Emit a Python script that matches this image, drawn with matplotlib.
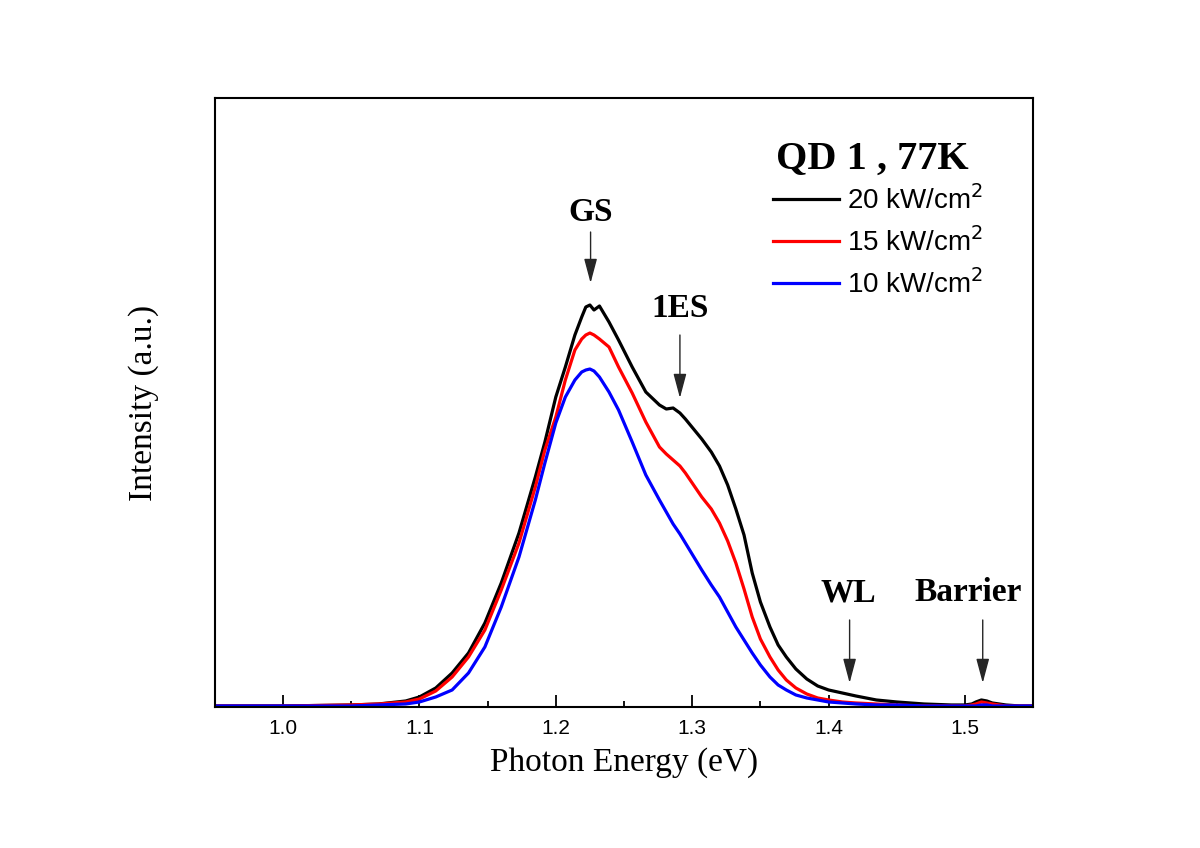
import matplotlib
matplotlib.use('Agg')
import matplotlib.pyplot as plt
from matplotlib.ticker import MultipleLocator

# photon energy grid (eV) and PL intensities (a.u.)
energy = [0.95, 1.00, 1.05, 1.07, 1.09, 1.10, 1.112, 1.124, 1.136, 1.148,
          1.160, 1.173, 1.185, 1.192, 1.200, 1.207, 1.214, 1.219, 1.222, 1.225,
          1.228, 1.232, 1.239, 1.246, 1.256, 1.266, 1.276, 1.281, 1.286, 1.291,
          1.295, 1.307, 1.314, 1.320, 1.326, 1.332, 1.338, 1.344, 1.350, 1.357,
          1.363, 1.369, 1.376, 1.384, 1.392, 1.40, 1.41, 1.42, 1.435, 1.45,
          1.47, 1.49, 1.50, 1.505, 1.508, 1.512, 1.516, 1.52, 1.53, 1.54, 1.55]
int_20 = [1, 1, 2, 3, 6, 10, 19, 34, 54, 84,
          124, 174, 230, 265, 310, 340, 372, 390, 400, 402,
          397, 401, 385, 367, 340, 315, 302, 298, 299, 294,
          288, 268, 255, 241, 222, 198, 172, 134, 105, 80,
          62, 50, 38, 28, 21, 17, 14, 11, 7, 5,
          3, 2, 2, 3, 5, 7, 6, 4, 2, 1, 1]
int_15 = [1, 1, 2, 3, 5, 8, 16, 30, 50, 77,
          117, 164, 220, 257, 290, 327, 357, 368, 372, 374,
          372, 368, 360, 340, 314, 285, 260, 253, 247, 241,
          234, 210, 198, 184, 166, 144, 118, 90, 68, 50,
          37, 27, 19, 13, 9, 7, 5, 4, 3, 2,
          1, 1, 1, 2, 3, 5, 4, 3, 1, 1, 1]
int_10 = [1, 1, 1, 2, 3, 5, 10, 17, 34, 60,
          100, 150, 207, 244, 284, 310, 327, 335, 337, 338,
          336, 330, 315, 297, 265, 232, 207, 195, 183, 173,
          164, 137, 122, 110, 95, 80, 67, 54, 42, 30,
          22, 17, 12, 9, 7, 5, 4, 3, 2, 2,
          1, 1, 1, 1, 1, 2, 2, 1, 1, 1, 1]
series_labels = ['20 kW/cm$^2$', '15 kW/cm$^2$', '10 kW/cm$^2$']
series_colors = ['black', 'red', 'blue']

# peak markers: label, energy, label position, arrow tail, arrow tip
peaks = ['GS', '1ES', 'WL', 'Barrier']
peak_e = [1.2255, 1.291, 1.4154, 1.513]
peak_lab_x = [1.2255, 1.291, 1.4147, 1.5020]
peak_lab_h = [495, 399, 114, 114]
peak_tail = [475, 372, 87, 87]
peak_tip = [424, 309, 24, 24]

serif = ['Liberation Serif', 'DejaVu Serif']
sans = ['Liberation Sans', 'DejaVu Sans']

fig = plt.figure(figsize=(12, 8.48), dpi=100)
ax = fig.add_axes([0.179, 0.1663, 0.682, 0.7181])

for y, lab, col in zip([int_20, int_15, int_10], series_labels, series_colors):
    ax.plot(energy, y, color=col, lw=2.3, label=lab)

ax.set_xlim(0.95, 1.55)
ax.set_ylim(0, 609)
ax.set_yticks([])
ax.xaxis.set_major_locator(MultipleLocator(0.1))
ax.xaxis.set_minor_locator(MultipleLocator(0.05))
ax.tick_params(axis='x', which='major', direction='in', length=8.5, width=1.3,
               labelsize=15, pad=9)
ax.tick_params(axis='x', which='minor', direction='in', length=4, width=1.3)
for lbl in ax.get_xticklabels():
    lbl.set_fontfamily(sans)
for sp in ax.spines.values():
    sp.set_linewidth(1.5)

ax.set_xlabel('Photon Energy (eV)', fontsize=24, family=serif, labelpad=6)
ax.set_ylabel('Intensity (a.u.)', fontsize=24, family=serif, labelpad=40)

for name, e, lx, lh, t0, t1 in zip(peaks, peak_e, peak_lab_x, peak_lab_h, peak_tail, peak_tip):
    ax.annotate('', xy=(e, t1), xytext=(e, t0),
                arrowprops=dict(arrowstyle='-|>,head_length=0.75,head_width=0.2',
                                color='0.15', lw=1.0, mutation_scale=20,
                                shrinkA=0, shrinkB=0))
    ax.text(lx, lh, name, ha='center', va='center', fontsize=24,
            fontweight='bold', family=serif)

ax.text(0.686, 0.90, 'QD 1 , 77K', transform=ax.transAxes, ha='left', va='center',
        fontsize=29, fontweight='bold', family=serif)

lgd = ax.legend(loc='upper left', bbox_to_anchor=(0.682, 0.857), frameon=False,
                prop={'family': sans, 'size': 20}, handlelength=2.37,
                handletextpad=0.29, labelspacing=0.43, borderaxespad=0, borderpad=0)

plt.savefig('out.png', dpi=100)
